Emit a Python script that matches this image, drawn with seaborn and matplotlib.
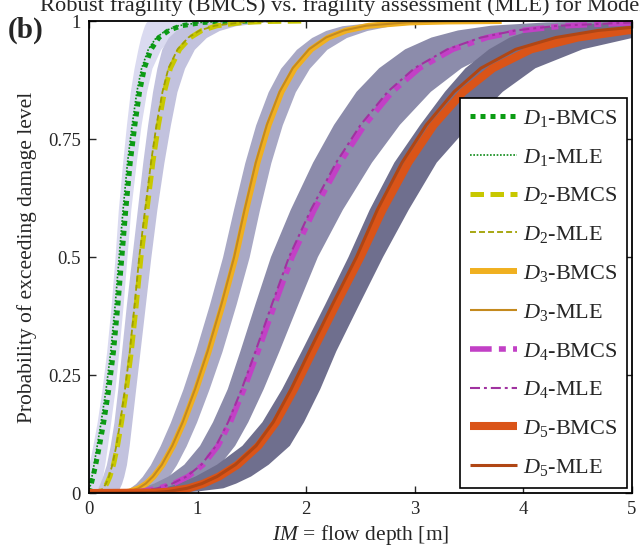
import numpy as np
import pandas as pd
import seaborn as sns
import matplotlib
matplotlib.use("Agg")
import matplotlib.pyplot as plt

prob = [0, 0.001, 0.003, 0.01, 0.02, 0.035, 0.06, 0.1, 0.15, 0.22, 0.3, 0.4, 0.5,
        0.6, 0.7, 0.78, 0.85, 0.9, 0.94, 0.965, 0.98, 0.99, 0.997, 0.999, 1.0]

# flow depth [m] of each curve / band edge at those levels
d1_bmcs = [0, 0.0015, 0.004, 0.011, 0.022, 0.038, 0.062, 0.097, 0.136, 0.183, 0.226, 0.267, 0.303,
           0.339, 0.38, 0.423, 0.466, 0.51, 0.572, 0.645, 0.735, 0.85, 1.05, 1.22, 1.5]
d1_mle = [0, 0.001, 0.003, 0.008, 0.016, 0.028, 0.047, 0.076, 0.112, 0.158, 0.201, 0.242, 0.278,
          0.314, 0.355, 0.398, 0.441, 0.485, 0.547, 0.62, 0.71, 0.825, 1.03, 1.2, 1.48]
d1_lo = [0, 0, 0, 0, 0, 0, 0, 0.035, 0.075, 0.12, 0.163, 0.205, 0.24,
         0.27, 0.31, 0.345, 0.38, 0.415, 0.45, 0.475, 0.495, 0.51, 0.525, 0.535, 0.55]
d1_hi = [0.085, 0.085, 0.09, 0.10, 0.11, 0.125, 0.145, 0.17, 0.20, 0.24, 0.275, 0.315, 0.35,
         0.385, 0.435, 0.48, 0.53, 0.58, 0.66, 0.76, 0.87, 1.0, 1.2, 1.35, 1.6]

d2_bmcs = [0, 0.075, 0.10, 0.137, 0.165, 0.193, 0.226, 0.263, 0.30, 0.345, 0.39, 0.436, 0.479,
           0.534, 0.588, 0.64, 0.695, 0.75, 0.835, 0.935, 1.04, 1.18, 1.42, 1.65, 2.0]
d2_mle = [0, 0.07, 0.095, 0.13, 0.157, 0.184, 0.216, 0.252, 0.288, 0.332, 0.376, 0.421, 0.463,
          0.517, 0.571, 0.622, 0.677, 0.732, 0.816, 0.915, 1.02, 1.16, 1.40, 1.63, 1.98]
d2_lo = [0.055, 0.055, 0.065, 0.08, 0.10, 0.125, 0.16, 0.195, 0.23, 0.265, 0.30, 0.345, 0.395,
         0.445, 0.495, 0.54, 0.585, 0.625, 0.67, 0.73, 0.80, 0.88, 1.0, 1.1, 1.25]
d2_hi = [0.24, 0.24, 0.26, 0.28, 0.30, 0.32, 0.345, 0.37, 0.395, 0.43, 0.47, 0.52, 0.57,
         0.625, 0.69, 0.75, 0.81, 0.88, 0.97, 1.08, 1.20, 1.35, 1.6, 1.85, 2.2]

d3_bmcs = [0, 0.315, 0.373, 0.461, 0.528, 0.596, 0.678, 0.775, 0.872, 0.987, 1.103, 1.232, 1.35,
           1.447, 1.552, 1.655, 1.773, 1.895, 2.046, 2.204, 2.37, 2.578, 2.953, 3.30, 3.8]
d3_mle = [0, 0.312, 0.369, 0.456, 0.523, 0.59, 0.671, 0.767, 0.863, 0.977, 1.092, 1.22, 1.337,
          1.433, 1.536, 1.638, 1.755, 1.876, 2.026, 2.182, 2.346, 2.552, 2.923, 3.267, 3.76]
d3_lo = [0.24, 0.24, 0.29, 0.37, 0.43, 0.49, 0.565, 0.655, 0.75, 0.865, 0.98, 1.11, 1.23,
         1.33, 1.435, 1.535, 1.65, 1.765, 1.91, 2.05, 2.18, 2.33, 2.6, 2.85, 3.2]
d3_hi = [0.52, 0.52, 0.565, 0.62, 0.675, 0.735, 0.805, 0.895, 0.99, 1.105, 1.225, 1.355, 1.475,
         1.57, 1.675, 1.78, 1.90, 2.03, 2.19, 2.37, 2.56, 2.78, 3.15, 3.5, 4.0]

d4_bmcs = [0, 0.361, 0.466, 0.641, 0.78, 0.913, 1.051, 1.188, 1.301, 1.427, 1.556, 1.711, 1.87,
           2.074, 2.311, 2.539, 2.792, 3.043, 3.349, 3.664, 3.988, 4.386, 5.088, 5.73, 7.0]
d4_mle = [0, 0.356, 0.459, 0.631, 0.768, 0.899, 1.035, 1.17, 1.281, 1.406, 1.533, 1.685, 1.842,
          2.043, 2.276, 2.501, 2.75, 2.997, 3.299, 3.609, 3.928, 4.32, 5.01, 5.64, 6.9]
d4_lo = [0.254, 0.254, 0.335, 0.475, 0.601, 0.733, 0.878, 1.023, 1.142, 1.278, 1.394, 1.533, 1.676,
         1.858, 2.064, 2.257, 2.464, 2.672, 2.911, 3.154, 3.398, 3.70, 4.21, 4.64, 5.5]
d4_hi = [0.464, 0.464, 0.587, 0.783, 0.934, 1.071, 1.209, 1.346, 1.467, 1.609, 1.754, 1.929, 2.108,
         2.338, 2.606, 2.863, 3.148, 3.431, 3.776, 4.131, 4.496, 4.945, 5.737, 6.46, 8.0]

d5_bmcs = [0, 0.616, 0.735, 0.917, 1.056, 1.198, 1.369, 1.561, 1.722, 1.889, 2.06, 2.277, 2.5,
           2.704, 2.941, 3.176, 3.447, 3.72, 4.071, 4.50, 4.96, 5.55, 6.6, 7.6, 9.5]
d5_mle = [0, 0.607, 0.724, 0.903, 1.04, 1.18, 1.348, 1.538, 1.696, 1.861, 2.029, 2.243, 2.463,
          2.655, 2.882, 3.106, 3.361, 3.608, 3.929, 4.298, 4.687, 5.162, 5.94, 6.69, 8.0]
d5_lo = [0.456, 0.456, 0.545, 0.68, 0.823, 0.981, 1.179, 1.413, 1.597, 1.779, 1.959, 2.177, 2.39,
         2.585, 2.812, 3.051, 3.278, 3.467, 3.684, 3.874, 4.061, 4.322, 4.89, 5.63, 7.0]
d5_hi = [0.832, 0.832, 0.992, 1.238, 1.356, 1.493, 1.655, 1.85, 1.98, 2.13, 2.277, 2.491, 2.708,
         2.944, 3.202, 3.51, 3.81, 4.111, 4.545, 5.02, 5.54, 6.2, 7.4, 8.5, 10.0]

levels = ["1", "2", "3", "4", "5"]
bmcs = [d1_bmcs, d2_bmcs, d3_bmcs, d4_bmcs, d5_bmcs]
mle = [d1_mle, d2_mle, d3_mle, d4_mle, d5_mle]
band_lo = [d1_lo, d2_lo, d3_lo, d4_lo, d5_lo]
band_hi = [d1_hi, d2_hi, d3_hi, d4_hi, d5_hi]

band_colors = ["#dadaf0", "#c2c2de", "#a8a8c5", "#8c8cab", "#6f6f8e"]
bmcs_colors = ["#0c9c14", "#c8c800", "#f0b020", "#c240c6", "#da5418"]
mle_colors = ["#0a8a14", "#a0a000", "#c48a1e", "#a032a0", "#b04614"]
bmcs_styles = [(0, (1, 1)), (0, (2.7, 1.3)), "-", (0, (3.9, 1.3, 1.25, 1.3)), "-"]
mle_styles = [(0, (1, 1)), (0, (3.3, 1.7)), "-", (0, (4.8, 1.9, 1.4, 1.9)), "-"]
bmcs_lw = [3.6, 3.6, 4.3, 4.0, 5.8]
mle_lw = [1.2, 1.3, 1.5, 1.5, 2.2]

sns.set_style("ticks")
plt.rcParams["font.family"] = ["Liberation Serif", "DejaVu Serif"]
plt.rcParams["mathtext.fontset"] = "custom"
plt.rcParams["mathtext.rm"] = "Liberation Serif"
plt.rcParams["mathtext.it"] = "Liberation Serif:italic"

fig = plt.figure(figsize=(6.4, 5.47), dpi=100)
ax = fig.add_axes([0.139, 0.0987, 0.8485, 0.8629])

for i in range(5):
    ax.fill_betweenx(prob, band_lo[i], band_hi[i], color=band_colors[i], lw=0, zorder=1 + i)

for i in range(5):
    df = pd.DataFrame({"x": bmcs[i], "p": prob})
    sns.lineplot(data=df, x="x", y="p", ax=ax, sort=False, estimator=None,
                 color=bmcs_colors[i], lw=bmcs_lw[i], linestyle=bmcs_styles[i],
                 dash_capstyle="butt", solid_capstyle="butt",
                 label=f"$D_{levels[i]}$-BMCS", zorder=10 + 2 * i)
    df = pd.DataFrame({"x": mle[i], "p": prob})
    sns.lineplot(data=df, x="x", y="p", ax=ax, sort=False, estimator=None,
                 color=mle_colors[i], lw=mle_lw[i], linestyle=mle_styles[i],
                 dash_capstyle="butt", solid_capstyle="butt",
                 label=f"$D_{levels[i]}$-MLE", zorder=11 + 2 * i)

ax.set_xlim(0, 5)
ax.set_ylim(0, 1)
ax.set_xticks([0, 1, 2, 3, 4, 5])
ax.set_yticks([0, 0.25, 0.5, 0.75, 1])
ax.set_yticklabels(["0", "0.25", "0.5", "0.75", "1"])
ax.tick_params(direction="in", top=True, right=True, length=5, width=1,
               labelsize=13.5, pad=6)
for s in ax.spines.values():
    s.set_linewidth(1.3)
    s.set_color("black")
    s.set_zorder(30)

ax.set_xlabel("$IM$ = flow depth [m]", fontsize=15.5, labelpad=3)
ax.set_ylabel("Probability of exceeding damage level", fontsize=15.5, labelpad=8)

leg = ax.legend(loc="upper right", bbox_to_anchor=(0.991, 0.837), borderaxespad=0,
                fontsize=16, handlelength=2.1, labelspacing=0.8, handletextpad=0.25,
                fancybox=False, framealpha=1, edgecolor="black", borderpad=0.45)
leg.get_frame().set_linewidth(1.2)
leg.set_zorder(40)

fig.text(0.012, 0.932, "(b)", fontsize=21, fontweight="bold")
fig.text(0.062, 0.98, "Robust fragility (BMCS) vs. fragility assessment (MLE) for Model",
         fontsize=16.2, va="baseline")

fig.savefig("out.png", dpi=100)
